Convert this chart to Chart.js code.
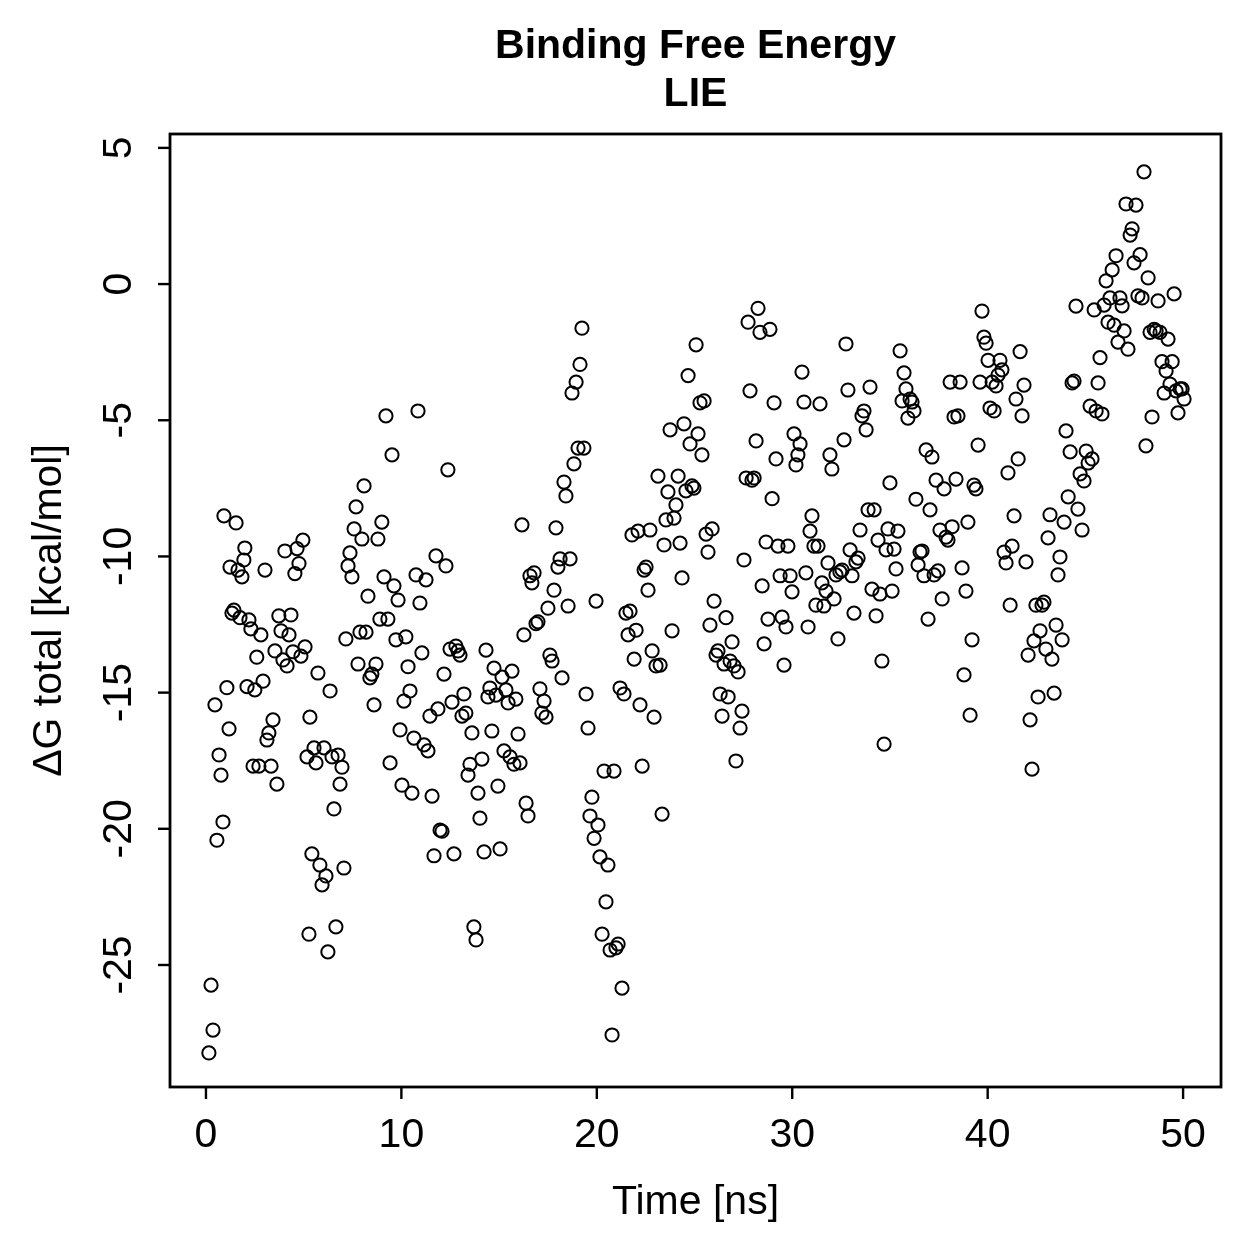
<!DOCTYPE html>
<html><head><meta charset="utf-8">
<script src="https://cdn.jsdelivr.net/npm/chart.js@4"></script>
<style>html,body{margin:0;padding:0;background:#fff}#wrap{width:1259px;height:1259px}</style>
</head><body><div id="wrap"><canvas id="c" width="1259" height="1259"></canvas></div><div id="msg"></div>
<script>
const titleLines = ["Binding Free Energy", "LIE"];
const xLabel = "Time [ns]";
const yLabel = "\u0394G total [kcal/mol]";
const xTicks = [0, 10, 20, 30, 40, 50];
const yTicks = [-25, -20, -15, -10, -5, 0, 5];

const times = [
0.15,0.26,0.36,0.46,0.56,0.67,0.77,0.87,0.92,1.07,
1.18,1.23,1.33,1.43,1.54,1.64,1.74,1.84,1.94,1.99,
2.1,2.2,2.3,2.41,2.5,2.6,2.71,2.81,2.92,3.02,
3.12,3.22,3.33,3.43,3.53,3.63,3.73,3.84,3.94,4.04,
4.15,4.25,4.35,4.45,4.55,4.66,4.76,4.86,4.96,5.07,
5.17,5.27,5.32,5.42,5.53,5.63,5.73,5.83,5.94,6.04,
6.14,6.24,6.35,6.45,6.55,6.65,6.76,6.86,6.96,7.06,
7.16,7.27,7.37,7.47,7.58,7.68,7.78,7.88,7.98,8.09,
8.19,8.29,8.39,8.49,8.6,8.7,8.8,8.9,9.0,9.11,
9.21,9.31,9.42,9.52,9.62,9.72,9.83,9.93,10.03,10.13,
10.23,10.34,10.44,10.54,10.64,10.75,10.85,10.95,11.05,11.16,
11.26,11.36,11.46,11.57,11.67,11.77,11.87,11.98,12.08,12.18,
12.28,12.38,12.49,12.59,12.69,12.79,12.9,13.0,13.1,13.2,
13.3,13.41,13.51,13.61,13.71,13.82,13.92,14.02,14.12,14.23,
14.33,14.43,14.53,14.63,14.74,14.84,14.94,15.05,15.15,15.25,
15.35,15.46,15.56,15.66,15.76,15.86,15.97,16.07,16.17,16.27,
16.38,16.48,16.58,16.68,16.79,16.89,16.99,17.09,17.19,17.3,
17.4,17.5,17.6,17.71,17.81,17.91,18.01,18.12,18.22,18.32,
18.42,18.53,18.63,18.73,18.83,18.94,19.04,19.14,19.24,19.34,
19.45,19.55,19.65,19.75,19.86,19.96,20.06,20.16,20.27,20.37,
20.47,20.57,20.68,20.78,20.88,20.98,21.09,21.19,21.29,21.39,
21.49,21.6,21.7,21.8,21.91,22.01,22.11,22.21,22.32,22.42,
22.52,22.62,22.72,22.83,22.93,23.03,23.13,23.24,23.34,23.44,
23.54,23.64,23.75,23.85,23.95,24.05,24.16,24.26,24.36,24.46,
24.56,24.67,24.77,24.87,24.97,25.08,25.18,25.28,25.38,25.49,
25.59,25.69,25.79,25.9,26.0,26.1,26.2,26.31,26.41,26.51,
26.61,26.72,26.82,26.92,27.02,27.12,27.23,27.33,27.43,27.53,
27.64,27.74,27.84,27.94,28.05,28.15,28.25,28.35,28.46,28.56,
28.66,28.76,28.86,28.97,29.07,29.17,29.27,29.38,29.48,29.58,
29.68,29.78,29.89,29.99,30.09,30.19,30.29,30.4,30.5,30.6,
30.7,30.81,30.91,31.01,31.11,31.21,31.32,31.42,31.52,31.62,
31.73,31.83,31.93,32.03,32.14,32.24,32.34,32.44,32.55,32.65,
32.75,32.85,32.96,33.06,33.16,33.26,33.37,33.47,33.57,33.67,
33.78,33.88,33.98,34.08,34.19,34.29,34.39,34.49,34.59,34.7,
34.8,34.9,35.0,35.11,35.21,35.31,35.41,35.52,35.62,35.72,
35.82,35.92,36.03,36.13,36.23,36.33,36.44,36.54,36.64,36.74,
36.85,36.95,37.05,37.15,37.26,37.36,37.46,37.56,37.67,37.77,
37.87,37.97,38.08,38.18,38.28,38.38,38.48,38.59,38.69,38.79,
38.89,38.99,39.1,39.2,39.3,39.4,39.51,39.61,39.71,39.81,
39.92,40.02,40.12,40.23,40.33,40.43,40.53,40.63,40.73,40.84,
40.94,41.04,41.15,41.25,41.35,41.45,41.56,41.66,41.76,41.86,
41.96,42.07,42.17,42.27,42.37,42.47,42.58,42.68,42.78,42.88,
42.98,43.09,43.19,43.29,43.4,43.5,43.6,43.7,43.81,43.91,
44.01,44.12,44.22,44.32,44.42,44.52,44.62,44.73,44.83,44.93,
45.04,45.14,45.24,45.34,45.45,45.55,45.65,45.75,45.85,45.96,
46.06,46.16,46.26,46.37,46.47,46.57,46.67,46.77,46.88,46.98,
47.08,47.18,47.29,47.39,47.49,47.59,47.69,47.8,47.9,48.0,
48.1,48.21,48.31,48.41,48.52,48.62,48.72,48.82,48.92,49.03,
49.13,49.23,49.33,49.44,49.54,49.64,49.74,49.85,49.95,50.05
];

const deltaG = [
-28.23,-25.74,-27.39,-15.45,-20.42,-17.29,-18.03,-19.75,-8.51,-14.82,
-16.33,-10.39,-12.08,-11.97,-8.77,-10.5,-12.25,-10.75,-10.13,-9.69,
-14.78,-12.33,-12.66,-17.7,-14.9,-13.7,-17.7,-12.88,-14.58,-10.5,
-16.74,-16.48,-17.7,-16.0,-13.47,-18.36,-12.18,-12.73,-13.8,-9.8,
-14.02,-12.88,-12.15,-13.5,-10.63,-9.71,-10.26,-13.66,-9.4,-13.32,
-17.36,-23.87,-15.9,-20.92,-17.03,-17.58,-14.28,-21.33,-22.06,-17.03,
-21.73,-24.52,-14.94,-17.36,-19.27,-23.6,-17.29,-18.36,-17.74,-21.44,
-13.03,-10.35,-9.87,-10.75,-8.99,-8.18,-13.95,-12.78,-9.36,-7.41,
-12.78,-11.46,-14.46,-14.32,-15.45,-13.95,-9.36,-12.3,-8.74,-10.75,
-4.84,-12.3,-17.58,-6.27,-11.08,-13.06,-11.6,-16.37,-18.4,-15.31,
-12.95,-14.05,-14.94,-18.69,-16.67,-10.68,-4.66,-11.71,-13.54,-16.92,
-10.86,-17.14,-15.86,-18.8,-20.99,-9.98,-15.6,-20.05,-20.09,-14.32,
-10.35,-6.82,-13.4,-15.35,-20.92,-13.29,-13.47,-13.62,-15.86,-15.05,
-15.75,-18.03,-17.63,-16.48,-23.6,-24.08,-18.69,-19.61,-17.44,-20.85,
-13.44,-15.16,-14.83,-16.41,-14.1,-15.09,-18.43,-20.74,-14.43,-17.14,
-14.9,-15.38,-17.36,-14.21,-17.63,-15.24,-16.52,-17.58,-8.84,-12.88,
-19.06,-19.53,-10.71,-10.97,-10.6,-12.47,-12.4,-14.86,-15.75,-15.31,
-15.9,-11.9,-13.62,-13.84,-11.24,-8.95,-10.39,-10.09,-14.46,-7.27,
-7.78,-11.82,-10.09,-4.0,-6.6,-3.6,-6.02,-2.95,-1.62,-6.02,
-15.05,-16.3,-19.53,-18.84,-20.35,-11.64,-19.86,-21.03,-23.87,-17.88,
-22.68,-21.33,-24.45,-27.57,-17.88,-24.37,-24.23,-14.83,-25.85,-15.05,
-12.08,-12.88,-12.01,-9.21,-13.77,-12.71,-9.07,-15.45,-17.7,-10.5,
-10.39,-11.24,-9.03,-13.47,-15.9,-14.02,-7.05,-13.99,-19.46,-9.58,
-8.66,-7.63,-5.35,-12.73,-8.59,-8.11,-7.05,-9.51,-10.79,-5.13,
-7.59,-3.36,-5.87,-7.41,-7.49,-2.23,-5.5,-4.36,-6.27,-4.29,
-9.18,-9.84,-12.52,-8.99,-11.64,-13.62,-13.47,-15.05,-15.86,-13.95,
-12.25,-15.16,-13.84,-13.14,-14.02,-17.51,-14.24,-16.3,-15.68,-10.13,
-7.12,-1.4,-3.92,-7.2,-7.12,-5.76,-0.89,-1.77,-11.08,-13.21,
-9.47,-12.3,-1.66,-7.88,-4.36,-6.42,-9.62,-10.71,-12.23,-13.99,
-12.59,-9.62,-10.71,-11.3,-5.5,-6.64,-6.27,-5.87,-3.23,-4.33,
-10.6,-12.59,-9.07,-8.51,-9.62,-11.79,-9.62,-4.4,-10.97,-11.82,
-11.27,-10.24,-6.27,-6.79,-11.56,-10.68,-13.03,-10.57,-10.5,-5.72,
-2.2,-3.89,-9.76,-10.71,-12.08,-10.2,-10.06,-9.03,-4.84,-4.66,
-5.35,-8.29,-3.78,-11.2,-8.29,-12.18,-9.4,-11.38,-13.84,-16.89,
-9.76,-8.99,-7.3,-11.27,-9.73,-10.46,-9.07,-2.45,-4.29,-3.26,
-3.85,-4.92,-4.22,-4.33,-4.66,-7.9,-10.31,-9.84,-9.8,-10.71,
-6.09,-12.3,-8.29,-6.35,-10.68,-7.2,-10.53,-9.03,-11.56,-7.52,
-9.29,-9.4,-3.6,-8.91,-4.88,-7.16,-4.84,-3.6,-10.42,-14.35,
-11.27,-8.74,-15.83,-13.06,-7.38,-7.52,-5.91,-3.6,-0.99,-1.95,
-2.17,-2.8,-4.55,-3.6,-4.66,-3.74,-3.34,-2.8,-3.15,-9.84,
-10.24,-6.93,-11.79,-9.62,-8.51,-4.22,-6.42,-2.48,-4.84,-3.71,
-10.2,-13.62,-16.0,-17.81,-13.1,-11.79,-15.16,-12.73,-11.79,-11.68,
-13.4,-9.32,-8.47,-13.77,-15.02,-12.52,-10.68,-10.02,-13.06,-8.74,
-5.39,-7.81,-6.16,-3.63,-3.56,-0.81,-8.26,-6.97,-9.03,-7.23,
-6.13,-6.57,-4.48,-6.42,-0.95,-4.66,-3.63,-2.7,-4.77,-0.77,
0.12,-1.4,-0.51,0.52,-1.51,1.04,-2.13,-0.51,-0.8,-1.72,
2.94,-2.39,1.8,2.03,0.78,2.9,-0.43,1.08,-0.51,4.12,
-5.94,0.23,-1.77,-4.88,-1.66,-1.72,-0.62,-1.77,-2.85,-4.0,
-3.19,-2.02,-3.67,-2.85,-0.36,-3.92,-4.73,-3.85,-3.85,-4.22
];

if (times.length !== deltaG.length) {
  document.getElementById('msg').textContent = 'LEN MISMATCH ' + times.length + ' ' + deltaG.length;
}

const points = times.map((t, i) => ({x: t, y: deltaG[i]}));
const FONT = '"Liberation Sans", Arial, Helvetica, sans-serif';

const rStyle = {
  id: 'rStyle',
  afterDraw(chart) {
    const ctx = chart.ctx;
    const a = chart.chartArea;
    const xs = chart.scales.x, ys = chart.scales.y;
    ctx.save();
    ctx.strokeStyle = '#000';
    ctx.fillStyle = '#000';
    // box
    ctx.lineWidth = 2.8;
    ctx.strokeRect(a.left, a.top, a.right - a.left, a.bottom - a.top);
    // x ticks
    ctx.lineWidth = 2.4;
    ctx.font = '41px ' + FONT;
    ctx.textAlign = 'center';
    ctx.textBaseline = 'middle';
    xTicks.forEach(v => {
      const px = xs.getPixelForValue(v);
      ctx.beginPath(); ctx.moveTo(px, a.bottom); ctx.lineTo(px, a.bottom + 12); ctx.stroke();
      ctx.fillText(String(v), px, 1136);
    });
    // y ticks
    yTicks.forEach(v => {
      const py = ys.getPixelForValue(v);
      ctx.beginPath(); ctx.moveTo(a.left, py); ctx.lineTo(a.left - 12, py); ctx.stroke();
      ctx.save();
      ctx.translate(120, py);
      ctx.rotate(-Math.PI / 2);
      ctx.fillText(String(v), 0, 0);
      ctx.restore();
    });
    // axis labels
    ctx.fillText(xLabel, (a.left + a.right) / 2, 1203);
    ctx.save();
    ctx.translate(50, (a.top + a.bottom) / 2);
    ctx.rotate(-Math.PI / 2);
    ctx.fillText(yLabel, 0, 0);
    ctx.restore();
    // title
    ctx.font = 'bold 41px ' + FONT;
    ctx.fillText(titleLines[0], (a.left + a.right) / 2, 47);
    ctx.fillText(titleLines[1], (a.left + a.right) / 2, 95);
    ctx.restore();
  }
};

new Chart(document.getElementById('c'), {
  type: 'scatter',
  data: { datasets: [{
    data: points,
    pointStyle: 'circle',
    pointRadius: 6.6,
    pointHoverRadius: 6.6,
    pointBorderWidth: 2,
    borderColor: '#000',
    backgroundColor: 'rgba(0,0,0,0)',
    pointBackgroundColor: 'rgba(0,0,0,0)'
  }]},
  options: {
    responsive: false,
    animation: false,
    devicePixelRatio: 1,
    events: [],
    layout: { padding: { left: 170, right: 38, top: 134, bottom: 172 } },
    plugins: { legend: { display: false }, tooltip: { enabled: false }, title: { display: false } },
    scales: {
      x: { type: 'linear', display: false, min: -1.84, max: 51.94 },
      y: { type: 'linear', display: false, min: -29.48, max: 5.51 }
    }
  },
  plugins: [rStyle]
});
</script>
</body></html>
